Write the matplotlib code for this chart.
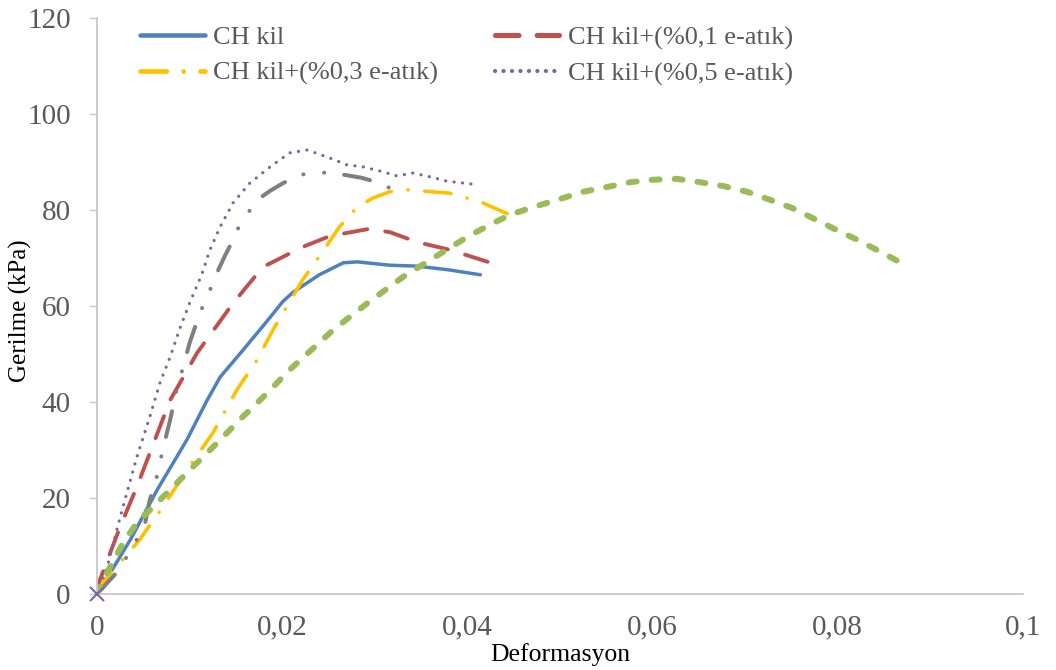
import matplotlib
matplotlib.use("Agg")
import matplotlib.pyplot as plt
from matplotlib.ticker import FixedLocator, FixedFormatter

plt.rcParams['font.family'] = ['Liberation Serif', 'DejaVu Serif']
plt.rcParams['lines.scale_dashes'] = False

# Stress-strain curves (deformation, stress in kPa)
ch_x = [0, 0.0003, 0.0036, 0.0065, 0.0097, 0.0119, 0.0133, 0.0155, 0.0180, 0.0201, 0.0212,
        0.0240, 0.0266, 0.0281, 0.0316, 0.0346, 0.0381, 0.0414]
ch_y = [0, 0.8, 11.3, 21.7, 32.1, 40.4, 45.2, 50.2, 56.0, 61.0, 62.9,
        66.5, 69.0, 69.2, 68.5, 68.3, 67.5, 66.5]

ew01_x = [0, 0.0003, 0.0025, 0.0043, 0.0079, 0.0108, 0.0147, 0.0179, 0.0222, 0.0252,
          0.0292, 0.0316, 0.0346, 0.0381, 0.0422]
ew01_y = [0, 2.9, 14.0, 22.3, 40.4, 50.2, 60.6, 68.1, 72.3, 74.6,
          76.0, 75.4, 73.3, 71.7, 69.2]

ew03_x = [0, 0.0006, 0.0046, 0.0071, 0.0097, 0.0125, 0.0151, 0.0173, 0.0190, 0.0222,
          0.0241, 0.0262, 0.0281, 0.0298, 0.0316, 0.0335, 0.0381, 0.0414, 0.0459]
ew03_y = [0, 2.3, 11.3, 18.1, 25.8, 33.5, 42.5, 48.8, 55.0, 65.4,
          70.6, 76.5, 80.6, 82.5, 83.8, 84.2, 83.5, 81.7, 77.9]

ew05_x = [0, 0.0011, 0.0025, 0.0043, 0.0057, 0.0068, 0.0079, 0.0090, 0.0100, 0.0113,
          0.0122, 0.0133, 0.0147, 0.0165, 0.0187, 0.0208, 0.0227, 0.0252, 0.0270,
          0.0287, 0.0306, 0.0324, 0.0341, 0.0360, 0.0378, 0.0405]
ew05_y = [0, 5.6, 16.0, 28.5, 36.9, 44.0, 49.4, 55.6, 60.6, 66.5,
          71.7, 76.5, 81.5, 85.6, 89.0, 91.9, 92.5, 90.8, 89.4,
          89.0, 88.1, 87.1, 87.7, 86.9, 86.0, 85.4]

s5_x = [0, 0.0022, 0.0032, 0.0041, 0.0052, 0.0057, 0.0063, 0.0071, 0.0079, 0.0086,
        0.0093, 0.0100, 0.0111, 0.0119, 0.0131, 0.0138, 0.0147, 0.0154, 0.0173,
        0.0187, 0.0201, 0.0219, 0.0238, 0.0249, 0.0268, 0.0286, 0.0302, 0.0316, 0.0330]
s5_y = [0, 4.6, 7.7, 10.6, 14.8, 19.6, 23.1, 30.0, 36.3, 42.5,
        47.3, 52.3, 58.5, 61.9, 67.5, 70.4, 73.8, 76.9, 82.1,
        84.0, 85.6, 87.3, 87.9, 87.7, 87.3, 86.7, 85.8, 84.6, 82.7]

s6_x = [0, 0.0014, 0.0028, 0.0043, 0.0065, 0.0082, 0.0100, 0.0119, 0.0136, 0.0154,
        0.0173, 0.0190, 0.0208, 0.0255, 0.0292, 0.0330, 0.0374, 0.0400, 0.0424,
        0.0446, 0.0471, 0.0500, 0.0525, 0.0551, 0.0576, 0.0600, 0.0626, 0.0651,
        0.0676, 0.0702, 0.0727, 0.0751, 0.0773, 0.0797, 0.0821, 0.0846, 0.0875]
s6_y = [0, 5.6, 10.6, 14.8, 19.0, 22.3, 25.8, 29.4, 32.7, 36.3,
        39.8, 43.1, 46.7, 55.0, 60.6, 66.0, 71.3, 74.4, 76.9,
        79.0, 80.6, 82.3, 83.8, 84.8, 85.8, 86.3, 86.5, 85.8,
        85.0, 83.8, 82.1, 80.4, 78.3, 76.0, 73.8, 71.3, 68.3]

labels = ["CH kil", "CH kil+(%0,1 e-atık)", "CH kil+(%0,3 e-atık)", "CH kil+(%0,5 e-atık)"]

x_ticks = [0, 0.02, 0.04, 0.06, 0.08, 0.1]
x_tick_labels = ["0", "0,02", "0,04", "0,06", "0,08", "0,1"]
y_ticks = [0, 20, 40, 60, 80, 100, 120]
y_tick_labels = ["0", "20", "40", "60", "80", "100", "120"]

fig = plt.figure(figsize=(10.56, 6.70), dpi=100)
ax = fig.add_axes([97 / 1056, 1 - 594 / 670, (1023 - 97) / 1056, (594 - 18) / 670])

l1, = ax.plot(ch_x, ch_y, color='#4F81BD', lw=2.5, solid_capstyle='round',
              solid_joinstyle='round', label=labels[0])
l2, = ax.plot(ew01_x, ew01_y, color='#C0504D', lw=2.8, dash_capstyle='round',
              dashes=(17, 13), label=labels[1])
l3, = ax.plot(ew03_x, ew03_y, color='#FFC000', lw=2.6, dash_capstyle='round',
              dashes=(19, 12, 0.1, 12), label=labels[2])
l4, = ax.plot(ew05_x, ew05_y, color='#8064A2', lw=2.3, dash_capstyle='round',
              dashes=(0.1, 6.0), label=labels[3])
ax.plot(s5_x, s5_y, color='#7F7F7F', lw=2.9, dash_capstyle='round',
        dashes=(19, 14.4, 0.1, 15, 0.1, 14.4), label='_nolegend_')
ax.plot(s6_x, s6_y, color='#9BBB59', lw=4.3, dash_capstyle='round',
        dashes=(5.8, 10.8), label='_nolegend_')
ax.plot(ew05_x[:1], ew05_y[:1], color='#8064A2', marker='x', ms=10, mew=1.5,
        ls='none', zorder=5, clip_on=False)

ax.set_xlim(0, 0.1)
ax.set_ylim(0, 120)
ax.xaxis.set_major_locator(FixedLocator(x_ticks))
ax.xaxis.set_major_formatter(FixedFormatter(x_tick_labels))
ax.yaxis.set_major_locator(FixedLocator(y_ticks))
ax.yaxis.set_major_formatter(FixedFormatter(y_tick_labels))

for side in ('top', 'right'):
    ax.spines[side].set_visible(False)
for side in ('left', 'bottom'):
    ax.spines[side].set_color('#C8C8C8')
    ax.spines[side].set_linewidth(1.3)

ax.tick_params(axis='x', length=0, pad=15, labelsize=21, labelcolor='#595959')
ax.tick_params(axis='y', length=6, width=1, color='#C8C8C8', pad=13,
               labelsize=21, labelcolor='#595959')

fig.text(560 / 1056, 1 - 655 / 670, "Deformasyon", ha='center', va='center',
         fontsize=18.5, color='black')
fig.text(20 / 1056, 1 - 311 / 670, "Gerilme (kPa)", ha='center', va='center',
         rotation=90, fontsize=18, color='black')

leg = ax.legend([l1, l3, l2, l4], [labels[0], labels[2], labels[1], labels[3]],
                ncol=2, loc='upper left', bbox_to_anchor=(140 / 1056, 1 - 26 / 670),
                bbox_transform=fig.transFigure, frameon=False, fontsize=19,
                handlelength=2.45, handletextpad=0.32, columnspacing=2.15,
                labelspacing=0.45, borderpad=0, borderaxespad=0)
for t in leg.get_texts():
    t.set_color('#595959')
for h in leg.get_lines():
    h.set_linewidth(h.get_linewidth() * 1.3)

fig.savefig("out.png", dpi=100, facecolor='white')
